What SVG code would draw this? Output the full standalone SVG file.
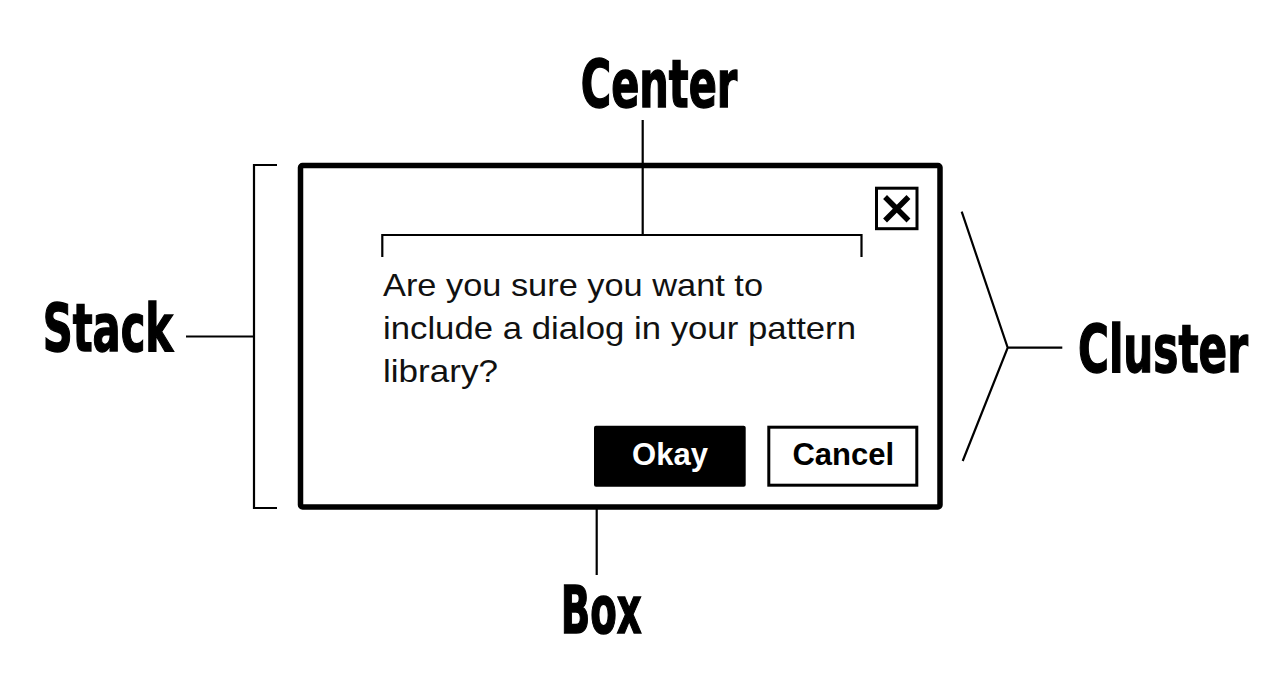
<svg xmlns="http://www.w3.org/2000/svg" width="1288" height="692" viewBox="0 0 1288 692">
  <style>
    .lbl { font-family: "Liberation Sans Narrow", "DejaVu Sans Condensed", "Roboto", sans-serif; font-weight: bold; font-size: 66px; fill: #000; stroke: #000; stroke-width: 1.4; font-stretch: condensed; }
    .body { font-family: "Liberation Sans", "Helvetica", Arial, sans-serif; font-size: 32px; fill: #111; }
    .btn { font-family: "Liberation Sans", Arial, sans-serif; font-weight: bold; font-size: 31px; text-anchor: middle; }
    .conn { stroke: #000; stroke-width: 2.2; fill: none; }
  </style>
  <rect width="1288" height="692" fill="#fff"/>

  <g id="dialog">
    <rect x="300.5" y="165.5" width="639.5" height="341.5" rx="2" fill="#fff" stroke="#000" stroke-width="5.5"/>
    <g id="close">
      <rect x="876.5" y="188.2" width="40.5" height="40.5" fill="#fff" stroke="#000" stroke-width="3"/>
      <path d="M887 199 L906.5 218.5 M906.5 199 L887 218.5" stroke="#000" stroke-width="5.5" stroke-linecap="square"/>
    </g>
    <g id="message">
      <text class="body" x="383" y="296" textLength="380" lengthAdjust="spacingAndGlyphs">Are you sure you want to</text>
      <text class="body" x="383" y="339" textLength="473" lengthAdjust="spacingAndGlyphs">include a dialog in your pattern</text>
      <text class="body" x="383" y="382" textLength="115" lengthAdjust="spacingAndGlyphs">library?</text>
    </g>
    <g id="okay">
      <rect x="594" y="425.7" width="151.7" height="61" rx="2" fill="#000"/>
      <text class="btn" x="670" y="465" fill="#fff">Okay</text>
    </g>
    <g id="cancel">
      <rect x="768.8" y="427.2" width="148" height="58" fill="#fff" stroke="#000" stroke-width="3"/>
      <text class="btn" x="843.3" y="465" fill="#000">Cancel</text>
    </g>
  </g>

  <g id="connectors">
    <!-- Center -->
    <path class="conn" d="M642.7 120 V235 M382.3 257 V235 H861.5 V257"/>
    <!-- Stack -->
    <path class="conn" d="M186 336.5 H254 M277 165 H254 V508 H277"/>
    <!-- Cluster -->
    <path class="conn" d="M961.7 211.7 L1007.7 347.7 L962.7 461 M1007.7 347.7 H1062.3"/>
    <!-- Box -->
    <path class="conn" d="M596.7 509 V575"/>
  </g>

  <g id="label-center"><text class="lbl" x="580.7" y="107" textLength="156.6" lengthAdjust="spacingAndGlyphs">Center</text></g>
  <g id="label-stack"><text class="lbl" x="42.7" y="351" textLength="130.3" lengthAdjust="spacingAndGlyphs">Stack</text></g>
  <g id="label-cluster"><text class="lbl" x="1078" y="371.5" textLength="170" lengthAdjust="spacingAndGlyphs">Cluster</text></g>
  <g id="label-box"><text class="lbl" x="560.7" y="633" textLength="81" lengthAdjust="spacingAndGlyphs">Box</text></g>
</svg>
